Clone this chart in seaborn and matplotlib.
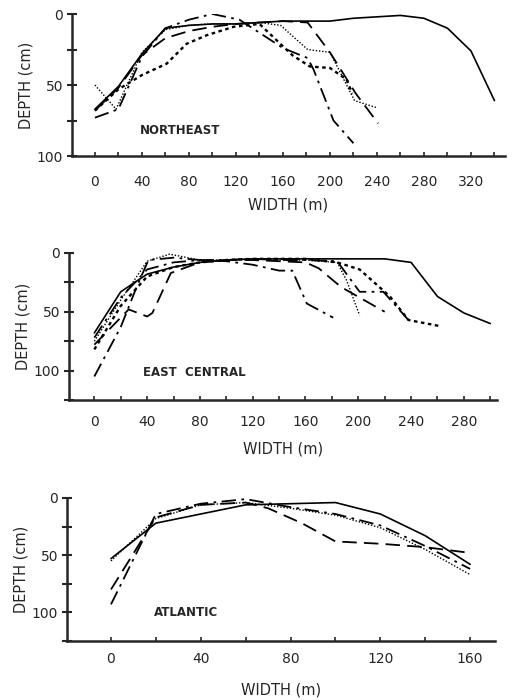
import numpy as np
import pandas as pd
import seaborn as sns
import matplotlib.pyplot as plt
from matplotlib.ticker import MultipleLocator

sns.set_style('ticks')
plt.rcParams['font.family'] = ['DejaVu Sans']

# NORTHEAST transects
ne_solid_x = [0, 20, 40, 60, 80, 100, 120, 140, 160, 180, 200, 220, 240, 260, 280, 300, 320, 340]
ne_solid_y = [67, 51, 28, 10, 8, 7, 7, 6, 5, 5, 5, 3, 2, 1, 3, 10, 26, 61]
ne_dashdot_x = [0, 20, 40, 60, 80, 100, 123, 160, 181, 186, 203, 220]
ne_dashdot_y = [73, 67, 30, 10, 4, 0, 4, 24, 31, 39, 75, 91]
ne_dash_x = [0, 20, 40, 60, 80, 100, 120, 140, 160, 181, 200, 222, 241]
ne_dash_y = [68, 52, 29, 17, 12, 9, 7, 6, 5, 6, 27, 56, 77]
ne_fine_x = [0, 18, 40, 60, 80, 100, 120, 140, 158, 181, 200, 221, 240]
ne_fine_y = [50, 67, 27, 11, 8, 7, 7, 6, 8, 25, 27, 61, 66]
ne_coarse_x = [0, 20, 40, 61, 78, 95, 118, 140, 168, 183, 200, 214, 219]
ne_coarse_y = [68, 53, 43, 35, 21, 15, 9, 7, 29, 37, 38, 46, 56]

# EAST CENTRAL transects
ec_solid_x = [0, 20, 40, 60, 80, 100, 120, 140, 160, 180, 200, 220, 240, 260, 280, 300]
ec_solid_y = [68, 33, 18, 12, 8, 6, 5, 5, 5, 5, 5, 5, 8, 37, 51, 60]
ec_dashdot_x = [0, 20, 32, 41, 60, 80, 100, 120, 140, 150, 161, 181]
ec_dashdot_y = [105, 63, 29, 6, 4, 6, 7, 10, 15, 15, 43, 55]
ec_dash_x = [0, 26, 40, 44, 58, 80, 100, 120, 140, 160, 170, 187, 220]
ec_dash_y = [78, 48, 54, 51, 17, 8, 6, 6, 7, 8, 13, 29, 50]
ec_fine_x = [0, 20, 40, 57, 80, 100, 120, 140, 160, 184, 191, 201]
ec_fine_y = [75, 40, 7, 1, 6, 6, 5, 6, 6, 8, 23, 53]
ec_coarse_x = [0, 20, 40, 60, 80, 100, 120, 140, 160, 184, 201, 224, 238, 261]
ec_coarse_y = [82, 45, 20, 12, 8, 6, 5, 5, 5, 8, 14, 37, 57, 62]
ec_dd2_x = [0, 20, 40, 60, 80, 100, 120, 140, 160, 184, 201, 219, 238]
ec_dd2_y = [72, 38, 14, 8, 6, 6, 5, 6, 6, 7, 33, 33, 57]

# ATLANTIC transects
at_solid_x = [0, 20, 60, 100, 120, 140, 160]
at_solid_y = [53, 22, 6, 4, 14, 33, 58]
at_dash_x = [0, 20, 40, 60, 70, 85, 100, 120, 140, 160]
at_dash_y = [80, 17, 6, 4, 9, 22, 38, 40, 43, 48]
at_dashdot_x = [0, 20, 40, 60, 80, 100, 120, 140, 160]
at_dashdot_y = [93, 14, 5, 1, 8, 14, 24, 42, 62]
at_dot_x = [0, 20, 40, 60, 80, 100, 120, 140, 160]
at_dot_y = [55, 18, 6, 4, 9, 15, 26, 45, 67]

SOLID = dict(linestyle='-', lw=1.2)
DASH = dict(linestyle=(0, (8, 4)), lw=1.3)
DASHDOT = dict(linestyle=(0, (8, 3, 1.5, 3)), lw=1.3)
FINE = dict(linestyle=(0, (1, 1.3)), lw=1.0)
COARSE = dict(linestyle=(0, (1.5, 1.5)), lw=1.7)

panels = [
    dict(name='NORTHEAST', rect=[0.139, 0.7771, 0.836, 0.2029], xlim=(-19.5, 349), ylim=(100, 0),
         yticks=[0, 50, 100], xticks=[0, 40, 80, 120, 160, 200, 240, 280, 320], text=(38, 82),
         xpad=14, lpad=6,
         lines=[(ne_solid_x, ne_solid_y, SOLID), (ne_dashdot_x, ne_dashdot_y, DASHDOT),
                (ne_dash_x, ne_dash_y, DASH), (ne_fine_x, ne_fine_y, FINE),
                (ne_coarse_x, ne_coarse_y, COARSE)]),
    dict(name='EAST  CENTRAL', rect=[0.1332, 0.4286, 0.826, 0.21], xlim=(-19.2, 305), ylim=(125, 0),
         yticks=[0, 50, 100], xticks=[0, 40, 80, 120, 160, 200, 240, 280], text=(37, 102),
         xpad=11, lpad=9,
         lines=[(ec_solid_x, ec_solid_y, SOLID), (ec_dashdot_x, ec_dashdot_y, DASHDOT),
                (ec_dash_x, ec_dash_y, DASH), (ec_fine_x, ec_fine_y, FINE),
                (ec_coarse_x, ec_coarse_y, COARSE), (ec_dd2_x, ec_dd2_y, DASHDOT)]),
    dict(name='ATLANTIC', rect=[0.1293, 0.0843, 0.826, 0.2043], xlim=(-19.6, 171), ylim=(125, 0),
         yticks=[0, 50, 100], xticks=[0, 40, 80, 120, 160], text=(19, 100),
         xpad=8, lpad=12,
         lines=[(at_solid_x, at_solid_y, SOLID), (at_dash_x, at_dash_y, DASH),
                (at_dashdot_x, at_dashdot_y, DASHDOT), (at_dot_x, at_dot_y, FINE)]),
]

fig = plt.figure(figsize=(5.18, 7.0), dpi=100)

for p in panels:
    ax = fig.add_axes(p['rect'])
    for xs, ys, st in p['lines']:
        sns.lineplot(x=xs, y=ys, ax=ax, color='black', sort=False, estimator=None, **st)
    ax.set_xlim(*p['xlim'])
    ax.set_ylim(*p['ylim'])
    ax.set_yticks(p['yticks'])
    ax.yaxis.set_minor_locator(MultipleLocator(25))
    ax.set_xticks(p['xticks'])
    ax.xaxis.set_minor_locator(MultipleLocator(20))
    for s in ['top', 'right']:
        ax.spines[s].set_visible(False)
    for s in ['left', 'bottom']:
        ax.spines[s].set_linewidth(1.8)
    ax.tick_params(axis='y', which='both', direction='inout', length=7, width=1.5,
                   labelsize=10, pad=3)
    ax.tick_params(axis='x', which='both', direction='in', length=3, width=1.2,
                   labelsize=10, pad=p['xpad'])
    ax.set_xlabel('WIDTH (m)', fontsize=10.5, labelpad=p['lpad'])
    ax.set_ylabel('DEPTH (cm)', fontsize=10.5, labelpad=2)
    ax.text(p['text'][0], p['text'][1], p['name'], fontsize=8.5, fontweight='bold',
            ha='left', va='center')

fig.savefig('out.png', dpi=100)
